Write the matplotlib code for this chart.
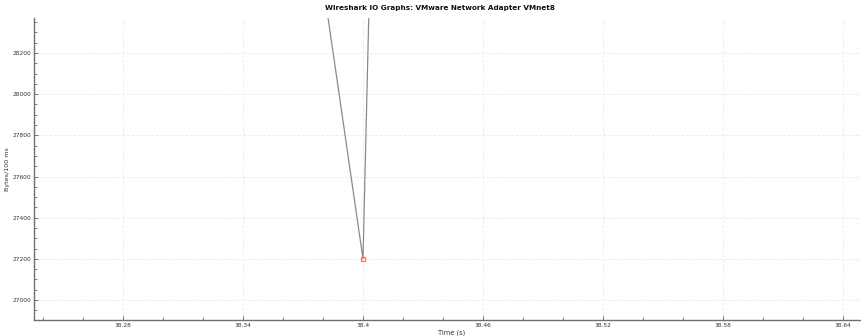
import matplotlib.pyplot as plt
from matplotlib.ticker import MultipleLocator, FixedLocator

# IO graph samples (100 ms interval)
times = [38.3, 38.4, 38.5]
bytes_per_interval = [33900, 27200, 68000]

x_ticks = [38.28, 38.34, 38.4, 38.46, 38.52, 38.58, 38.64]
x_tick_labels = ["38.28", "38.34", "38.4", "38.46", "38.52", "38.58", "38.64"]
y_ticks = [27000, 27200, 27400, 27600, 27800, 28000, 28200]

plt.rcParams['font.family'] = ['DejaVu Sans']

fig = plt.figure(figsize=(8.62, 3.36), dpi=100)
ax = fig.add_axes([34 / 862, 16 / 336, 1 - 34 / 862, 1 - 34 / 336])

ax.plot(times, bytes_per_interval, color='#8a8a8a', linewidth=0.9, zorder=2)
ax.plot([times[1]], [bytes_per_interval[1]], linestyle='none', marker='s',
        markersize=3.4, markerfacecolor='none', markeredgecolor='#ff6f6f',
        markeredgewidth=0.9, zorder=3)

ax.set_xlim(38.2355, 38.6495)
ax.set_ylim(26903, 28370)

ax.xaxis.set_major_locator(FixedLocator(x_ticks))
ax.set_xticklabels(x_tick_labels)
ax.xaxis.set_minor_locator(MultipleLocator(0.02))
ax.yaxis.set_major_locator(FixedLocator(y_ticks))
ax.yaxis.set_minor_locator(MultipleLocator(50))

ax.grid(True, which='major', linestyle=(0, (3, 2)), color='#ececec', linewidth=0.7)
ax.set_axisbelow(True)

for side in ['top', 'right']:
    ax.spines[side].set_visible(False)
for side in ['left', 'bottom']:
    ax.spines[side].set_color('#707070')
    ax.spines[side].set_linewidth(1.0)

ax.tick_params(which='major', direction='in', length=3, width=0.7, color='#707070',
               labelsize=4.2, labelcolor='#333333', pad=2)
ax.tick_params(which='minor', direction='in', length=2, width=0.6, color='#707070')

ax.set_xlabel("Time (s)", fontsize=4.8, color='#333333')
ax.xaxis.set_label_coords((452 - 34) / 828, -10 / 302)
ax.set_ylabel("Bytes/100 ms", fontsize=4.6, color='#333333')
ax.yaxis.set_label_coords(-24 / 828, 0.5)
fig.text(440 / 862, 1 - 8 / 336, "Wireshark IO Graphs: VMware Network Adapter VMnet8",
         ha='center', va='center', fontsize=5.2, fontweight='bold', color='#111111')

fig.savefig("out.png", dpi=100)
